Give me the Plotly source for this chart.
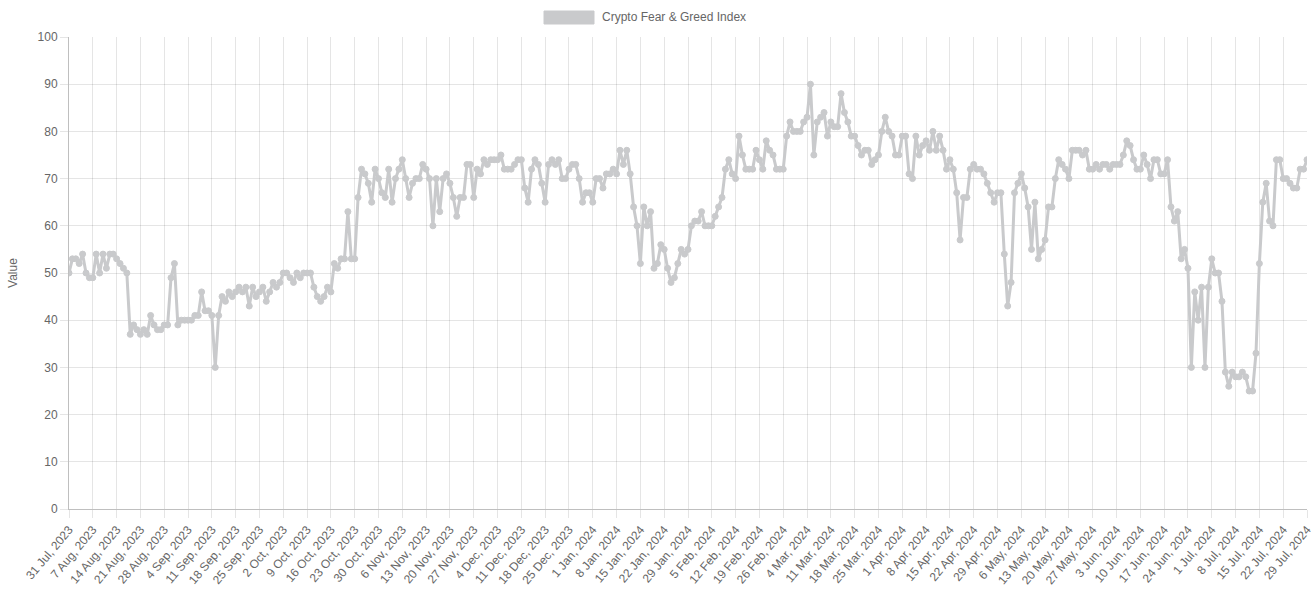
import pandas as pd
import plotly.graph_objects as go

start_date = "2023-07-31"
series_name = "Crypto Fear & Greed Index"
y_ticks = [0, 10, 20, 30, 40, 50, 60, 70, 80, 90, 100]

values_2023 = [
    50, 53, 53, 52, 54, 50, 49,
    49, 54, 50, 54, 51, 54, 54,
    53, 52, 51, 50, 37, 39, 38,
    37, 38, 37, 41, 39, 38, 38,
    39, 39, 49, 52, 39, 40, 40,
    40, 40, 41, 41, 46, 42, 42,
    41, 30, 41, 45, 44, 46, 45,
    46, 47, 46, 47, 43, 47, 45,
    46, 47, 44, 46, 48, 47, 48,
    50, 50, 49, 48, 50, 49, 50,
    50, 50, 47, 45, 44, 45, 47,
    46, 52, 51, 53, 53, 63, 53,
    53, 66, 72, 71, 69, 65, 72,
    70, 67, 66, 72, 65, 70, 72,
    74, 70, 66, 69, 70, 70, 73,
    72, 70, 60, 70, 63, 70, 71,
    69, 66, 62, 66, 66, 73, 73,
    66, 72, 71, 74, 73, 74, 74,
    74, 75, 72, 72, 72, 73, 74,
    74, 68, 65, 72, 74, 73, 69,
    65, 73, 74, 73, 74, 70, 70,
    72, 73, 73, 70, 65, 67, 67,
]
values_2024 = [
    65, 70, 70, 68, 71, 71, 72,
    71, 76, 73, 76, 71, 64, 60,
    52, 64, 60, 63, 51, 52, 56,
    55, 51, 48, 49, 52, 55, 54,
    55, 60, 61, 61, 63, 60, 60,
    60, 62, 64, 66, 72, 74, 71,
    70, 79, 75, 72, 72, 72, 76,
    74, 72, 78, 76, 75, 72, 72,
    72, 79, 82, 80, 80, 80, 82,
    83, 90, 75, 82, 83, 84, 79,
    82, 81, 81, 88, 84, 82, 79,
    79, 77, 75, 76, 76, 73, 74,
    75, 80, 83, 80, 79, 75, 75,
    79, 79, 71, 70, 79, 75, 77,
    78, 76, 80, 76, 79, 76, 72,
    74, 72, 67, 57, 66, 66, 72,
    73, 72, 72, 71, 69, 67, 65,
    67, 67, 54, 43, 48, 67, 69,
    71, 68, 64, 55, 65, 53, 55,
    57, 64, 64, 70, 74, 73, 72,
    70, 76, 76, 76, 75, 76, 72,
    72, 73, 72, 73, 73, 72, 73,
    73, 73, 75, 78, 77, 74, 72,
    72, 75, 73, 70, 74, 74, 71,
    71, 74, 64, 61, 63, 53, 55,
    51, 30, 46, 40, 47, 30, 47,
    53, 50, 50, 44, 29, 26, 29,
    28, 28, 29, 28, 25, 25, 33,
    52, 65, 69, 61, 60, 74, 74,
    70, 70, 69, 68, 68, 72, 72,
    74,
]
values = values_2023 + values_2024
dates = pd.date_range(start_date, periods=len(values), freq="D")

tick_dates = list(dates[::7])
tick_labels = [f"{d.day} {d.strftime('%b')}, {d.year}" for d in tick_dates]

COLOR = "rgb(201,202,204)"
GRID = "rgba(0,0,0,0.1)"
TXT = "#666666"
FONT = "Liberation Sans, Arial, sans-serif"

fig = go.Figure()
fig.add_trace(go.Scatter(
    x=dates, y=values, mode="lines+markers", name=series_name,
    line=dict(color=COLOR, width=3),
    marker=dict(color=COLOR, size=6, line=dict(color=COLOR, width=1)),
    showlegend=False,
))

W, H = 1316, 590
ml, mr, mt, mb = 69, 9, 37, 81
pw, ph = W - ml - mr, H - mt - mb

def px_x(px):
    return (px - ml) / pw

def px_y(py):
    return (H - mb - py) / ph

fig.add_shape(type="rect", xref="paper", yref="paper",
              x0=px_x(544), x1=px_x(594), y0=px_y(24), y1=px_y(11),
              fillcolor=COLOR, line=dict(color=COLOR, width=1))
fig.add_annotation(xref="paper", yref="paper", x=px_x(600), y=px_y(17),
                   xanchor="left", yanchor="middle", showarrow=False,
                   text=series_name, font=dict(size=12, color=TXT, family=FONT))

fig.update_layout(
    width=W, height=H,
    margin=dict(l=ml, r=mr, t=mt, b=mb, autoexpand=False),
    paper_bgcolor="white", plot_bgcolor="white",
    font=dict(family=FONT, size=12, color=TXT),
    showlegend=False,
    xaxis=dict(
        type="date", automargin=False,
        range=[dates[0], dates[-1]],
        tickmode="array", tickvals=tick_dates, ticktext=tick_labels,
        tickangle=-50, tickfont=dict(size=12, color=TXT),
        showgrid=True, gridcolor=GRID, gridwidth=1,
        ticks="outside", ticklen=8, tickcolor=GRID,
        showline=True, linecolor="rgba(0,0,0,0.25)", linewidth=1,
        zeroline=False,
    ),
    yaxis=dict(
        automargin=False,
        range=[0, 100], tickmode="array", tickvals=y_ticks,
        tickfont=dict(size=12, color=TXT),
        showgrid=True, gridcolor=GRID, gridwidth=1,
        ticks="outside", ticklen=8, tickcolor=GRID,
        showline=True, linecolor="rgba(0,0,0,0.25)", linewidth=1,
        zeroline=False,
        title=dict(text="Value", font=dict(size=12, color=TXT), standoff=17),
    ),
)

fig.write_html("out.html", config={"displayModeBar": False})

with open("out.html", "r", encoding="utf-8") as f:
    html = f.read()
html = html.replace("<head>", "<head><style>html,body{margin:0;padding:0;overflow:hidden;}</style>", 1)
with open("out.html", "w", encoding="utf-8") as f:
    f.write(html)
